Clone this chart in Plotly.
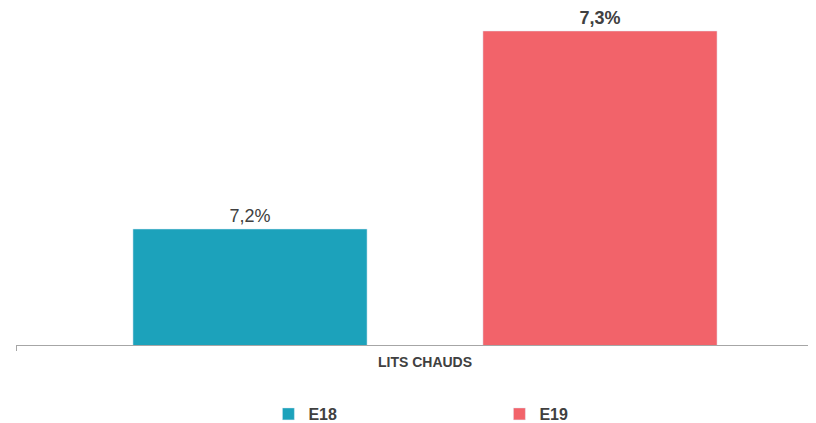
import plotly.graph_objects as go

categories = ["LITS CHAUDS"]
series_names = ["E18", "E19"]
e18_values = [7.2]
e19_values = [7.3]
colors = ["#1CA2BB", "#F2636A"]

def fmt(v):
    return f"{v:.1f}".replace(".", ",") + "%"

fig = go.Figure()
for name, vals, col, w in zip(series_names, [e18_values, e19_values], colors, ["normal", "bold"]):
    fig.add_trace(go.Bar(
        name=name, x=categories, y=vals, marker_color=col,
        text=[fmt(v) for v in vals], textposition="outside",
        textfont=dict(size=18, color="#404040", family="Liberation Sans, Arial", weight=w),
        cliponaxis=False,
    ))

# page body has an 8px margin: figure is 808x415 placed at (8, 8)
fig.update_layout(
    width=808, height=415,
    margin=dict(l=8, r=0, t=0, b=78, autoexpand=False),
    plot_bgcolor="white", paper_bgcolor="white",
    barmode="group", bargap=0.1443, bargroupgap=0.331,
    font=dict(family="Liberation Sans, Arial", color="#404040"),
    showlegend=True,
    legend=dict(orientation="h", x=0.3155, xanchor="left", y=-0.2047, yanchor="middle",
                entrywidth=186, entrywidthmode="pixels",
                font=dict(size=16, color="#404040", weight="bold")),
    xaxis=dict(range=[-0.5, 0.478], showline=True, linecolor="#A6A6A6", linewidth=1,
               ticks="outside", tickson="boundaries", tickcolor="#A6A6A6", ticklen=5,
               ticklabelstandoff=4,
               tickfont=dict(size=14, color="#404040", weight="bold"), showgrid=False,
               automargin=False),
    yaxis=dict(range=[7.1414, 7.3116], visible=False, showgrid=False, automargin=False),
)
fig.write_html("out.html")
